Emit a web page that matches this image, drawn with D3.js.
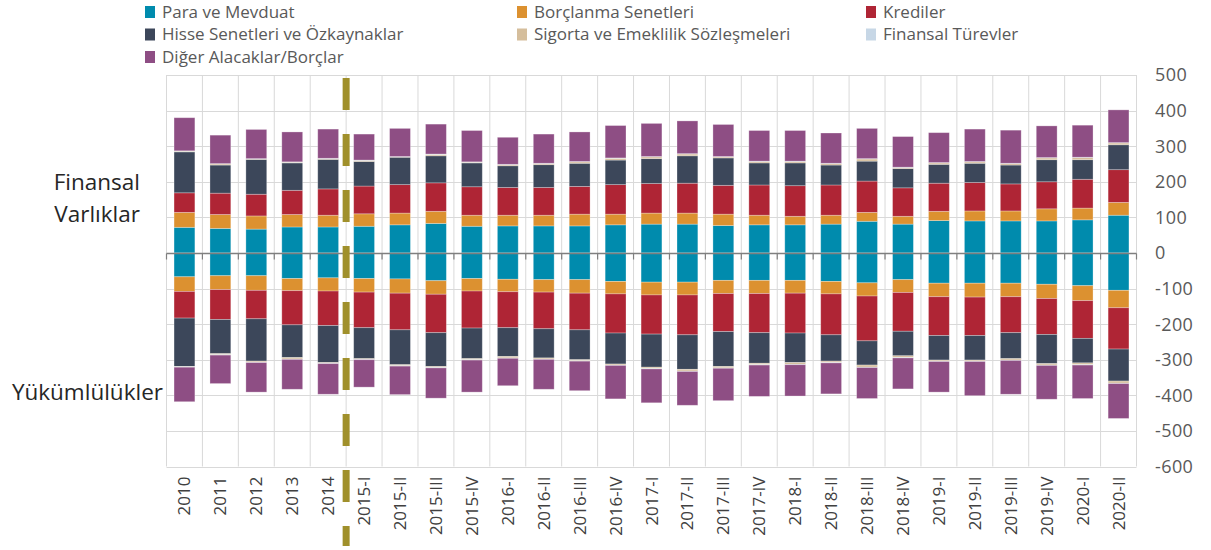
<!DOCTYPE html>
<html>
<head>
<meta charset="utf-8">
<script src="https://cdn.jsdelivr.net/npm/d3@7"></script>
<style>
  body { margin: 0; background: #fff; }
  svg text { font-family: "Open Sans", sans-serif; }
</style>
</head>
<body>
<svg id="chart" width="1211" height="550"></svg>
<script>
const categories = ["2010","2011","2012","2013","2014","2015-I","2015-II","2015-III","2015-IV",
  "2016-I","2016-II","2016-III","2016-IV","2017-I","2017-II","2017-III","2017-IV",
  "2018-I","2018-II","2018-III","2018-IV","2019-I","2019-II","2019-III","2019-IV","2020-I","2020-II"];

// Finansal varlıklar (pozitif)
const paraA    = [72,69,67,73,73,75,79,83,75,76,76,76,79,81,81,77,79,79,81,89,81,91,90,90,90,93,106];
const borcA    = [42,39,37,35,33,35,33,34,31,30,30,33,30,31,31,32,27,24,25,25,22,26,28,28,34,33,36];
const krediA   = [55,60,61,68,74,78,80,80,80,78,78,78,83,83,84,81,85,86,85,88,80,79,80,76,76,81,92];
const hisseA   = [115,79,98,77,83,69,77,76,67,61,64,65,69,70,77,77,62,64,56,56,54,53,54,53,62,55,70];
const sigortaA = [2,3,1,2,2,3,1,4,2,3,3,4,5,5,5,3,4,4,4,6,3,4,4,4,5,6,5];
const turevA   = [1,1,1,1,1,1,1,1,1,1,1,1,1,1,1,1,1,1,1,1,1,1,1,1,1,1,1];
const digerA   = [93,80,82,84,82,73,79,84,88,76,82,83,91,93,92,90,86,86,85,85,86,84,91,93,89,90,92];

// Yükümlülükler (negatif)
const paraL    = [-67,-64,-64,-72,-70,-72,-73,-78,-72,-74,-75,-75,-80,-82,-82,-77,-77,-77,-80,-84,-75,-85,-85,-85,-88,-92,-105];
const borcL    = [-41,-39,-41,-34,-37,-38,-40,-38,-35,-35,-35,-38,-35,-36,-36,-37,-37,-36,-35,-37,-36,-38,-39,-38,-40,-42,-49];
const krediL   = [-75,-84,-80,-96,-97,-100,-103,-108,-104,-101,-103,-103,-110,-110,-112,-107,-110,-112,-115,-126,-109,-109,-108,-101,-101,-106,-116];
const hisseL   = [-136,-96,-119,-92,-104,-87,-98,-95,-86,-81,-82,-84,-87,-93,-97,-98,-86,-83,-74,-68,-69,-69,-69,-73,-82,-69,-90];
const sigortaL = [-1,-3,-3,-4,-2,-2,-3,-3,-3,-4,-3,-3,-3,-4,-5,-4,-4,-5,-4,-6,-5,-3,-3,-4,-4,-5,-6];
const turevL   = [-1,-1,-1,-1,-1,-1,-1,-1,-1,-1,-1,-1,-1,-1,-1,-1,-1,-1,-1,-1,-1,-1,-1,-1,-1,-1,-1];
const digerL   = [-97,-80,-83,-84,-86,-77,-80,-85,-90,-77,-84,-83,-94,-95,-95,-91,-88,-88,-87,-87,-87,-86,-96,-95,-95,-94,-98];

const seriesNames = ["Para ve Mevduat","Borçlanma Senetleri","Krediler","Hisse Senetleri ve Özkaynaklar",
  "Sigorta ve Emeklilik Sözleşmeleri","Finansal Türevler","Diğer Alacaklar/Borçlar"];
const colors = ["#008bad","#dc9130","#af2535","#3c475a","#d5be9c","#c7d7e6","#8e4e84"];
const yTicks = [500,400,300,200,100,0,-100,-200,-300,-400,-500,-600];
const breakAfter = "2014";

const assets = [paraA, borcA, krediA, hisseA, sigortaA, turevA, digerA];
const liabs  = [paraL, borcL, krediL, hisseL, sigortaL, turevL, digerL];

// rows: one for assets, one for liabilities per category
const rows = [];
categories.forEach((c, i) => {
  const a = {cat: c}, l = {cat: c};
  seriesNames.forEach((s, k) => { a[s] = assets[k][i]; l[s] = liabs[k][i]; });
  rows.push(a, l);
});

const stack = d3.stack().keys(seriesNames).offset(d3.stackOffsetDiverging);
const stacked = stack(rows);

const plot = {left: 166.5, right: 1136.5, top: 75, bottom: 466.5};

const svg = d3.select("#chart");

const x = d3.scaleBand()
  .domain(categories)
  .range([plot.left, plot.right])
  .paddingInner(0.42)
  .paddingOuter(0.21);

const y = d3.scaleLinear()
  .domain([-600, 500])
  .range([plot.bottom, plot.top]);

const step = x.step();
const edges = d3.range(categories.length + 1).map(i => plot.left + i * step);

// grid
const grid = svg.append("g");
grid.selectAll("line.h")
  .data(yTicks.filter(d => d !== 0))
  .join("line")
    .attr("x1", plot.left).attr("x2", plot.right)
    .attr("y1", d => Math.round(y(d)) + 0.5).attr("y2", d => Math.round(y(d)) + 0.5)
    .attr("stroke", "#d9d9d9");
grid.selectAll("line.v")
  .data(edges)
  .join("line")
    .attr("x1", d => d).attr("x2", d => d)
    .attr("y1", plot.top).attr("y2", plot.bottom)
    .attr("stroke", "#d9d9d9");

// bars
svg.append("g")
  .selectAll("g")
  .data(stacked)
  .join("g")
    .attr("fill", (d, i) => colors[i])
  .selectAll("rect")
  .data(d => d)
  .join("rect")
    .attr("x", d => x(d.data.cat))
    .attr("width", x.bandwidth())
    .attr("y", d => y(Math.max(d[0], d[1])))
    .attr("height", d => Math.abs(y(d[0]) - y(d[1])))
    .attr("stroke", "#ffffff")
    .attr("stroke-opacity", 0.35)
    .attr("stroke-width", 0.8);

// zero axis
const y0 = Math.round(y(0)) + 0.5;
svg.append("line")
  .attr("x1", plot.left).attr("x2", plot.right)
  .attr("y1", y0).attr("y2", y0)
  .attr("stroke", "#7f7f7f").attr("stroke-width", 1.5);
svg.append("g")
  .selectAll("line")
  .data(edges)
  .join("line")
    .attr("x1", d => d).attr("x2", d => d)
    .attr("y1", y0).attr("y2", y0 + 6)
    .attr("stroke", "#7f7f7f").attr("stroke-width", 1.2);

// right axis labels
svg.append("g")
  .selectAll("text")
  .data(yTicks)
  .join("text")
    .attr("x", 1155)
    .attr("y", d => y(d))
    .attr("dy", "0.36em")
    .attr("font-size", 18)
    .attr("letter-spacing", 0.4)
    .attr("fill", "#595959")
    .text(d => d);

// x labels
svg.append("g")
  .selectAll("text")
  .data(categories)
  .join("text")
    .attr("transform", d => `translate(${x(d) + x.bandwidth() / 2 + 6},${plot.bottom + 10}) rotate(-90)`)
    .attr("text-anchor", "end")
    .attr("font-size", 17)
    .attr("fill", "#404040")
    .text(d => d);

// series break line
const bx = x(breakAfter) + x.bandwidth() + step * 0.21;
svg.append("line")
  .attr("x1", bx).attr("x2", bx)
  .attr("y1", 78).attr("y2", 546)
  .attr("stroke", "#a0902b")
  .attr("stroke-width", 7)
  .attr("stroke-dasharray", "32 24");

// side labels
const side = svg.append("g").attr("font-size", 22.5).attr("fill", "#262626");
side.append("text").attr("x", 140).attr("y", 190).attr("text-anchor", "end").text("Finansal");
side.append("text").attr("x", 140).attr("y", 222).attr("text-anchor", "end").text("Varlıklar");
side.append("text").attr("x", 163).attr("y", 400).attr("text-anchor", "end").text("Yükümlülükler");

// legend
const legendCols = [145, 517, 866];
const legend = svg.append("g")
  .selectAll("g")
  .data(seriesNames)
  .join("g")
    .attr("transform", (d, i) => `translate(${legendCols[i % 3]},${12 + Math.floor(i / 3) * 22.5})`);
legend.append("rect")
  .attr("x", 0).attr("y", -6)
  .attr("width", 10).attr("height", 12)
  .attr("fill", (d, i) => colors[i]);
legend.append("text")
  .attr("x", 17).attr("y", 0).attr("dy", "0.35em")
  .attr("font-size", 17)
  .attr("fill", "#595959")
  .text(d => d);
</script>
</body>
</html>
